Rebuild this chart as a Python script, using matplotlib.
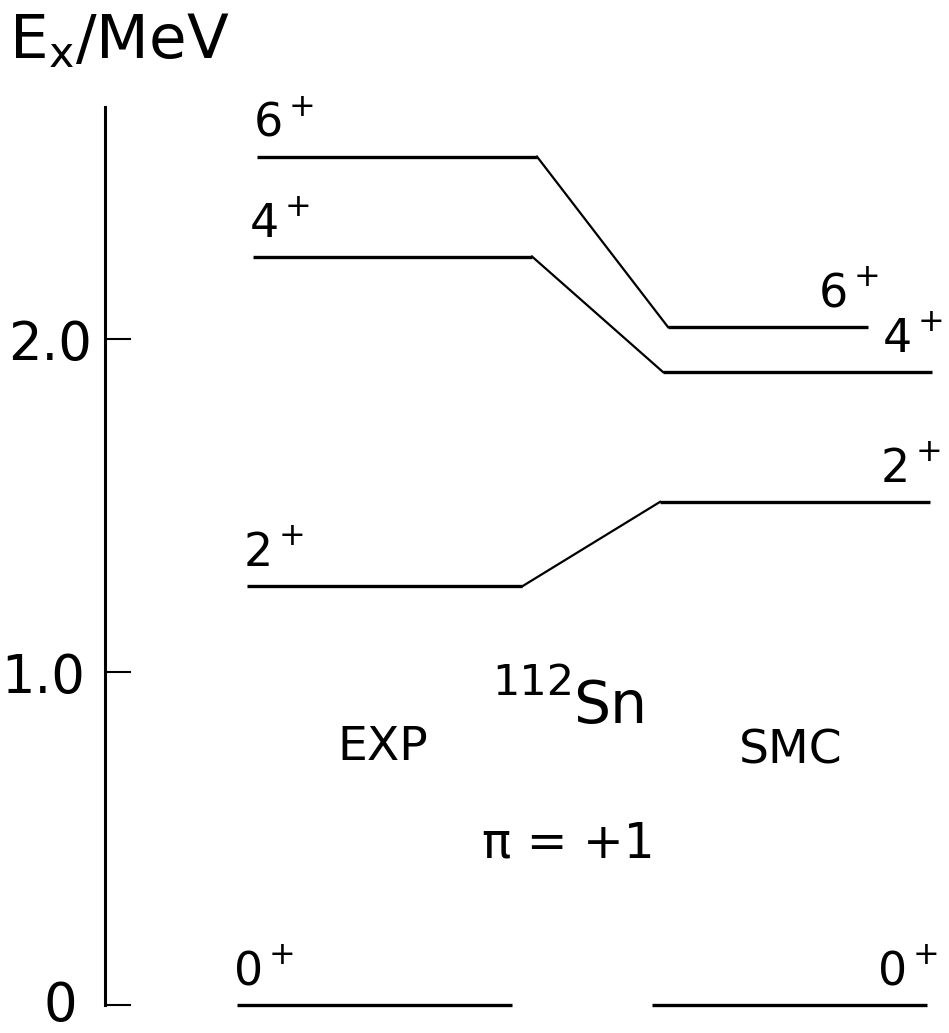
import matplotlib
matplotlib.use("Agg")
import matplotlib.pyplot as plt
import matplotlib.transforms as mtrans

# ---------------- data ----------------
spins = ["0", "2", "4", "6"]                 # all positive parity (+)
exp_energy = [0.0, 1.257, 2.248, 2.548]      # MeV, experiment
smc_energy = [0.0, 1.511, 1.901, 2.036]      # MeV, shell-model calculation
yticks = [0, 1, 2]
ytick_labels = ["0", "1.0", "2.0"]

# ---------------- layout (pixels) ----------------
W, H = 949, 1033
EXP_X0 = [237, 247, 253, 257]
EXP_X1 = [512, 522, 532, 537]
SMC_X0 = [652, 660, 663, 668]
SMC_X1 = [927, 930, 932, 868]
TICKLABEL_SHIFT = [(-15, 5), (-7, 0), (0, 0)]   # px, follows the scanned axis tilt
PT = 0.72  # points per pixel at dpi 100

fig = plt.figure(figsize=(W / 100, H / 100), dpi=100)
fig.patch.set_facecolor("white")
ax = fig.add_axes([105 / W, 28 / H, 1 - 105 / W, (1005 - 107) / H])
ax.set_xlim(105, 949)
ax.set_ylim(0, 2.697)
ax.patch.set_visible(False)
for s in ["top", "right", "bottom"]:
    ax.spines[s].set_visible(False)
ax.spines["left"].set_linewidth(2.2)
ax.set_xticks([])
ax.set_yticks(yticks, ytick_labels)
ax.tick_params(axis="y", direction="in", length=19, width=1.5, pad=9,
               labelsize=38, colors="black")
for tick, (dx, dy) in zip(ax.yaxis.get_major_ticks(), TICKLABEL_SHIFT):
    lab = tick.label1
    lab.set_transform(lab.get_transform() +
                      mtrans.ScaledTranslation(dx / 100, dy / 100,
                                               fig.dpi_scale_trans))

LW_LEVEL = 2.4
LW_CONN = 1.6

for i, sp in enumerate(spins):
    e, s = exp_energy[i], smc_energy[i]
    ax.plot([EXP_X0[i], EXP_X1[i]], [e, e], color="black", lw=LW_LEVEL,
            solid_capstyle="butt", clip_on=False)
    ax.plot([SMC_X0[i], SMC_X1[i]], [s, s], color="black", lw=LW_LEVEL,
            solid_capstyle="butt", clip_on=False)
    if i > 0:
        ax.plot([EXP_X1[i], SMC_X0[i]], [e, s], color="black", lw=LW_CONN,
                clip_on=False)

    # EXP labels (left)
    t = ax.annotate(sp, xy=(EXP_X0[i], e), xytext=(-3 * PT, 20 * PT),
                    textcoords="offset points", ha="left", va="baseline",
                    fontsize=33, annotation_clip=False)
    ax.annotate("+", xy=(1, 1), xycoords=t, xytext=(19 * PT, -5.5 * PT),
                textcoords="offset points", ha="center", va="center",
                fontsize=23, annotation_clip=False)
    # SMC labels (right)
    t = ax.annotate(sp, xy=(SMC_X1[i], s), xytext=(-20 * PT, 20 * PT),
                    textcoords="offset points", ha="right", va="baseline",
                    fontsize=33, annotation_clip=False)
    ax.annotate("+", xy=(1, 1), xycoords=t, xytext=(19 * PT, -5.5 * PT),
                textcoords="offset points", ha="center", va="center",
                fontsize=23, annotation_clip=False)


def fx(x):
    return x / W


def fy(y):
    return 1 - y / H


# axis title  E_x / MeV
fig.text(fx(9), fy(58), r"E$_\mathregular{x}$/MeV", fontsize=44,
         va="baseline", ha="left")

# centre annotations
fig.text(fx(383), fy(760), "EXP", fontsize=34, ha="center", va="baseline")
fig.text(fx(791), fy(763), "SMC", fontsize=34, ha="center", va="baseline")
fig.text(fx(574), fy(695), "112", fontsize=31, ha="right", va="baseline")
fig.text(fx(573), fy(723), "Sn", fontsize=42, ha="left", va="baseline")
fig.text(fx(568), fy(858), "π = +1", fontsize=35, ha="center", va="baseline")

fig.savefig("out.png", dpi=100, facecolor="white")
